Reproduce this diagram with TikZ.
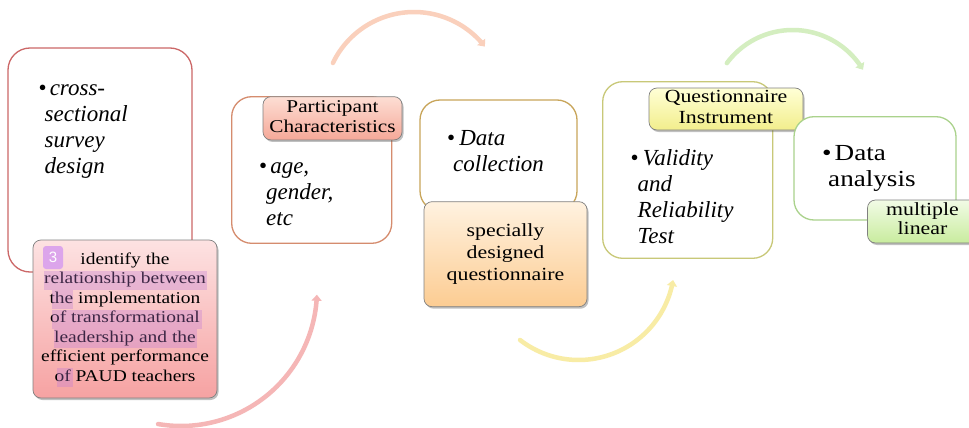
\documentclass[tikz,border=0pt]{standalone}
\usepackage{fontspec}
\setmainfont{Liberation Serif}
\newfontfamily\upserif[FakeStretch=1.18]{Liberation Serif}
\newfontfamily\markfont{Liberation Sans}
\usetikzlibrary{arrows.meta,shadows}
\definecolor{bOne}{RGB}{204,104,104}
\definecolor{bTwo}{RGB}{213,140,110}
\definecolor{bThree}{RGB}{200,165,90}
\definecolor{bFour}{RGB}{200,200,120}
\definecolor{bFive}{RGB}{170,210,140}
\definecolor{aPink}{RGB}{245,182,182}
\definecolor{aPeach}{RGB}{250,208,188}
\definecolor{aYellow}{RGB}{248,236,165}
\definecolor{aGreen}{RGB}{212,238,192}
\definecolor{hiPurple}{RGB}{190,120,215}
\definecolor{markPurple}{RGB}{220,165,235}
\tikzset{
  mainbox/.style={draw, line width=1.3pt, fill=white, rounded corners=20pt, inner sep=0pt},
  lab/.style={draw=black!50, line width=0.7pt, rounded corners=8pt, inner sep=0pt, align=center,
    drop shadow={shadow xshift=1.5pt, shadow yshift=-2pt, opacity=0.35, fill=black!70}},
  body/.style={inner sep=0pt, anchor=north west, align=left, font=\fontsize{23}{26}\selectfont},
  flow/.style={line width=4.5pt, line cap=round},
  tip/.style={-{Triangle[length=6pt,width=10pt]}}
}
\begin{document}
\begin{tikzpicture}[x=1pt,y=-1pt]
\useasboundingbox (0,0) rectangle (969,428);
\clip (0,0) rectangle (969,428);
\fill[white] (0,0) rectangle (969,428);

% flow arcs
\draw[flow, aPink, tip] plot[domain=99.7:2, samples=60, variable=\t] ({181+136*cos(\t)},{290+136*sin(\t)});
\draw[flow, aPeach, tip] plot[domain=205.7:322, samples=60, variable=\t] ({414+90*cos(\t)},{102+90*sin(\t)});
\draw[flow, aYellow, tip] plot[domain=127.7:9.5, samples=60, variable=\t] ({578.6+95.8*cos(\t)},{264.2+95.8*sin(\t)});
\draw[flow, aGreen, tip] plot[domain=216.6:329, samples=60, variable=\t] ({792.7+82*cos(\t)},{112+82*sin(\t)});

% step 1
\node[mainbox, draw=bOne, minimum width=184pt, minimum height=224pt, rounded corners=22pt] (b1) at (100,160) {};
\node[body] (t1) at (38.5,76.8) {\strut\textbullet\hspace{3pt}\textit{cross-}\\\hspace*{6pt}\textit{sectional}\\\hspace*{6pt}\textit{survey}\\\hspace*{6pt}\textit{design}};
\node[lab, top color={rgb,255:red,253;green,226;blue,226}, bottom color={rgb,255:red,246;green,162;blue,162},
  minimum width=184pt, minimum height=158pt,
  font=\upserif\fontsize{16.5}{19.5}\selectfont] (l1) at (125,319)
  {\strut identify the\\relationship between\\the implementation\\of transformational\\leadership and the\\efficient performance\\of PAUD teachers\strut};
\fill[hiPurple, opacity=0.32] (44,270.7) rectangle (207,290);
\fill[hiPurple, opacity=0.32] (51.7,290) rectangle (73.3,309);
\fill[hiPurple, opacity=0.32] (52,310) rectangle (202,329);
\fill[hiPurple, opacity=0.32] (54,329) rectangle (197,348);
\fill[hiPurple, opacity=0.32] (56.7,368) rectangle (73.3,387);
\node[fill=markPurple, rounded corners=3pt, minimum width=20pt, minimum height=23pt, inner sep=0pt,
  text=white, font=\markfont\fontsize{15}{15}\selectfont] (m3) at (53,257.5) {3};

% step 2
\node[mainbox, draw=bTwo, minimum width=160pt, minimum height=146.6pt] (b2) at (311.7,170) {};
\node[body] (t2) at (259,154.8) {\strut\textbullet\hspace{3pt}\textit{age,}\\\hspace*{7pt}\textit{gender,}\\\hspace*{7pt}\textit{etc}};
\node[lab, top color={rgb,255:red,253;green,222;blue,212}, bottom color={rgb,255:red,245;green,168;blue,152},
  minimum width=139pt, minimum height=43.3pt,
  font=\upserif\fontsize{18}{20.5}\selectfont] (l2) at (332.5,118.3) {\strut Participant\\Characteristics\strut};

% step 3
\node[mainbox, draw=bThree, minimum width=157pt, minimum height=111pt] (b3) at (498.5,155.5) {};
\node[body] (t3) at (447,126.8) {\strut\textbullet\hspace{4pt}\textit{Data}\\\hspace*{6pt}\textit{collection}};
\node[lab, top color={rgb,255:red,255;green,242;blue,224}, bottom color={rgb,255:red,252;green,204;blue,146},
  minimum width=163pt, minimum height=105pt,
  font=\upserif\fontsize{18.5}{21.7}\selectfont] (l3) at (505.5,254.2) {\strut specially\\designed\\questionnaire\strut};

% step 4
\node[mainbox, draw=bFour, minimum width=170pt, minimum height=176.6pt] (b4) at (687.7,170) {};
\node[body] (t4) at (630.5,146.8) {\strut\textbullet\hspace{4pt}\textit{Validity}\\\hspace*{7pt}\textit{and}\\\hspace*{7pt}\textit{Reliability}\\\hspace*{7pt}\textit{Test}};
\node[lab, top color={rgb,255:red,255;green,255;blue,214}, bottom color={rgb,255:red,242;green,238;blue,140},
  minimum width=154pt, minimum height=42pt,
  font=\upserif\fontsize{18.5}{21}\selectfont] (l4) at (726,109) {\strut Questionnaire\\Instrument\strut};

% step 5
\node[mainbox, draw=bFive, minimum width=162pt, minimum height=103.3pt] (b5) at (875,168.35) {};
\node[body, font=\upserif\fontsize{23}{26}\selectfont] (t5) at (822,141.8) {\strut\textbullet\hspace{3pt}Data\\\hspace*{6pt}analysis};
\node[lab, top color={rgb,255:red,242;green,251;blue,230}, bottom color={rgb,255:red,200;green,236;blue,158},
  minimum width=110pt, minimum height=43pt,
  font=\upserif\fontsize{18.5}{18.7}\selectfont] (l5) at (922.5,221.5) {\strut multiple\\linear\strut};
\end{tikzpicture}
\end{document}
